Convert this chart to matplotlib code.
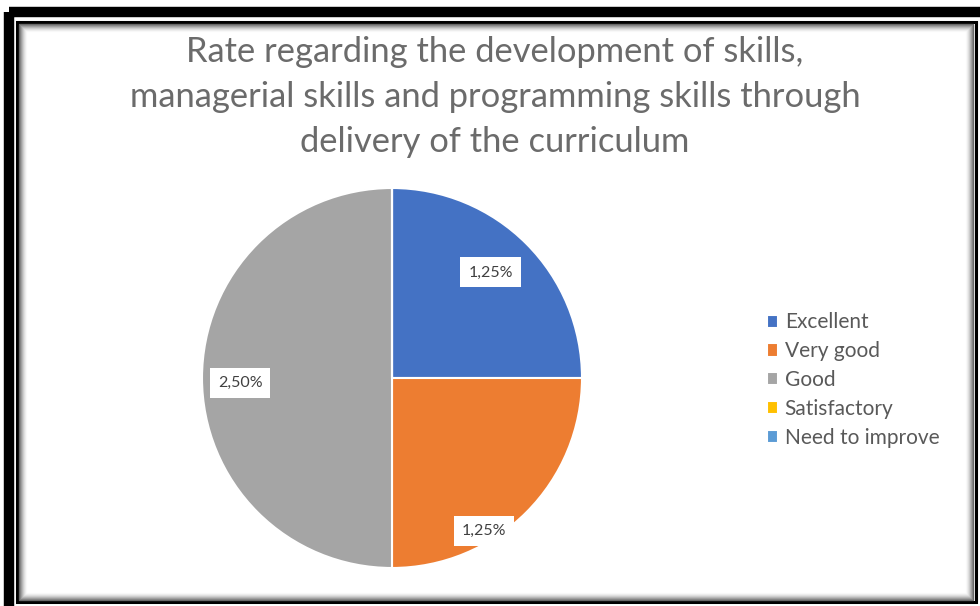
import matplotlib
matplotlib.use('Agg')
import matplotlib.pyplot as plt
from matplotlib.patches import Rectangle
import numpy as np

plt.rcParams['font.family'] = ['Lato', 'DejaVu Sans']

# data
categories = ['Excellent', 'Very good', 'Good', 'Satisfactory', 'Need to improve']
values = [1.25, 1.25, 2.50, 0.0, 0.0]
colors = ['#4472C4', '#ED7D31', '#A5A5A5', '#FFC000', '#5B9BD5']
title = ('Rate regarding the development of skills,\n'
         'managerial skills and programming skills through\n'
         'delivery of the curriculum')

W, H = 980, 606
fig = plt.figure(figsize=(W / 100, H / 100), dpi=100)
fig.patch.set_facecolor('white')

# frame (pixel coords, y down)
bg = fig.add_axes([0, 0, 1, 1])
bg.set_xlim(0, W)
bg.set_ylim(H, 0)
bg.axis('off')
bg.add_patch(Rectangle((9, 12), 1000, 1000, fill=False, ec='black', lw=7.5))
bg.add_patch(Rectangle((17, 21.5), 958.5, 580.5, fill=False, ec='black', lw=2.2))
# soft inner shadow
for i in range(8):
    g = 0.4 + i * 0.075
    bg.add_patch(Rectangle((19 + i, 23.5 + i), 953.5 - 2 * i, 576.5 - 2 * i,
                           fill=False, ec=(g, g, g), lw=1.0, alpha=1 - i * 0.11))

fig.text(495 / W, 1 - 97 / H, title, ha='center', va='center', fontsize=24.8,
         color='#6b6b6b', linespacing=1.5)

# pie
cx, cy, r = 392, 378, 190
ax = fig.add_axes([(cx - r) / W, 1 - (cy + r) / H, 2 * r / W, 2 * r / H])
wedges, _ = ax.pie(values, colors=colors, startangle=90, counterclock=False,
                   radius=1, wedgeprops=dict(edgecolor='white', linewidth=1.5))
ax.set_xlim(-1, 1)
ax.set_ylim(-1, 1)
ax.set_aspect('equal')

# label placement (best fit look)
lab_r = [0.76, 0.94, 0.80, 0, 0]
lab_da = [2, -14, 2, 0, 0]
for w, v, rr, da in zip(wedges, values, lab_r, lab_da):
    if v == 0:
        continue
    ang = np.deg2rad((w.theta1 + w.theta2) / 2 + da)
    ax.text(rr * np.cos(ang), rr * np.sin(ang), ('%.2f%%' % v).replace('.', ','),
            ha='center', va='center', fontsize=11.5, color='#404040',
            bbox=dict(boxstyle='square,pad=0.5', fc='white', ec='none'))

leg = fig.legend(wedges, categories, loc='center left',
                 bbox_to_anchor=(767 / W, 1 - 380 / H), frameon=False,
                 fontsize=15, handlelength=0.55, handleheight=0.6,
                 handletextpad=0.3, labelspacing=0.42, borderpad=0,
                 borderaxespad=0)
for t in leg.get_texts():
    t.set_color('#595959')

fig.savefig('out.png', dpi=100)
